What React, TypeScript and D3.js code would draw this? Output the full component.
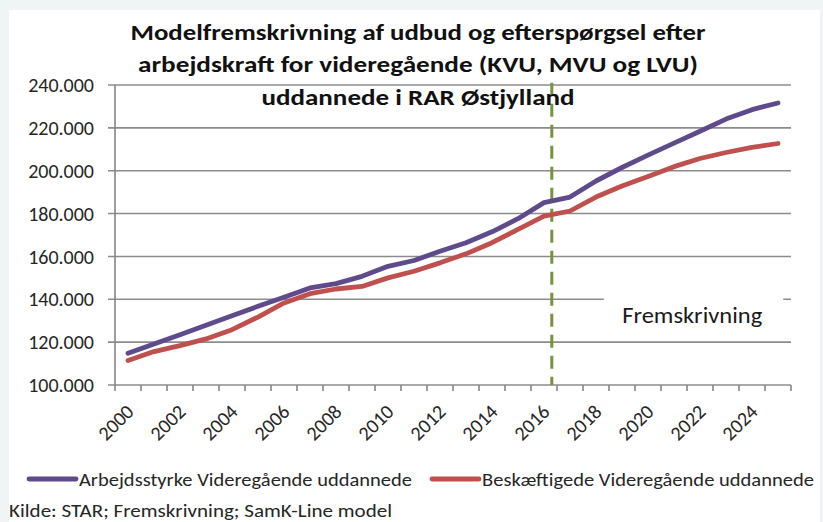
import * as d3 from "d3"

// years on the category axis
const years = d3.range(2000, 2026)
const yearLabels = years.filter(y => y % 2 === 0)

// Arbejdsstyrke (labour force), persons
const arbejdsstyrke = [
  114800, 119100, 123500, 127900, 132300, 136700, 141000, 145300, 147300, 150700,
  155400, 158100, 162400, 166400, 171500, 177600, 185100, 187700, 195200, 201500,
  207300, 212900, 218400, 224100, 228500, 231600,
]

// Beskæftigede (employed), persons
const beskaeftigede = [
  111400, 115600, 118400, 121500, 125800, 131700, 138300, 142600, 144800, 146000,
  150000, 153100, 157000, 161200, 166400, 172600, 178800, 181200, 187700, 192900,
  197300, 201900, 205700, 208500, 210900, 212700,
]

const yTicks = [100000, 120000, 140000, 160000, 180000, 200000, 220000, 240000]
const forecastYear = 2016.3

const titleLines = [
  "Modelfremskrivning af udbud og efterspørgsel efter",
  "arbejdskraft for videregående (KVU, MVU og LVU)",
  "uddannede i RAR Østjylland",
]

const series = [
  { name: "Arbejdsstyrke Videregående uddannede", values: arbejdsstyrke, color: "#5f4b8b" },
  { name: "Beskæftigede Videregående uddannede", values: beskaeftigede, color: "#c0504d" },
]

const W = 823
const H = 522
const FONT = "Carlito, Calibri, Lato, sans-serif"

const da = d3.formatLocale({ decimal: ",", thousands: ".", grouping: [3], currency: ["", " kr."] })
const fmt = da.format(",.0f")

export default function App() {
  const x = d3.scaleLinear().domain([1999.5, 2025.5]).range([115, 791])
  const y = d3.scaleLinear().domain([100000, 240000]).range([385, 85])

  const line = d3.line<number>()
    .x((_, i) => x(years[i]))
    .y(v => y(v))

  const tickEdges = d3.range(1999.5, 2026, 1)

  return (
    <svg width={W} height={H} style={{ position: "absolute", left: 0, top: 0, display: "block" }}
      fontFamily={FONT}>
      <rect width={W} height={H} fill="#eff5f5" />
      <rect x={9} y={10} width={W - 12} height={H - 10} fill="#ffffff" />

      {/* gridlines */}
      {yTicks.map(t => (
        <line key={t} x1={108} x2={791} y1={y(t)} y2={y(t)} stroke="#8c8c8c" strokeWidth={1.6} />
      ))}

      {/* y axis */}
      <line x1={115} x2={115} y1={y(240000)} y2={y(100000)} stroke="#868686" strokeWidth={1.6} />
      {yTicks.map(t => (
        <text key={t} x={94} y={y(t)} dy="0.36em" textAnchor="end" fontSize={20} fill="#262626">
          {fmt(t)}
        </text>
      ))}

      {/* x axis ticks */}
      {tickEdges.map(t => (
        <line key={t} x1={x(t)} x2={x(t)} y1={385} y2={391} stroke="#868686" strokeWidth={1.6} />
      ))}
      {yearLabels.map(yr => (
        <text key={yr} transform={`translate(${x(yr) + 7},413) rotate(-45)`} textAnchor="end"
          fontSize={20} fill="#262626">
          {yr}
        </text>
      ))}

      {/* forecast label box */}
      <rect x={x(2018.3)} y={y(144000)} width={x(2025.2) - x(2018.3)} height={y(122000) - y(144000)}
        fill="#ffffff" />
      <text x={x(2021.7)} y={y(129000)} textAnchor="middle" fontSize={22} fill="#1a1a1a"
        textLength={140} lengthAdjust="spacingAndGlyphs">
        Fremskrivning
      </text>

      {/* forecast divider */}
      <line x1={x(forecastYear)} x2={x(forecastYear)} y1={y(241000)} y2={y(100000)}
        stroke="#77933c" strokeWidth={3} strokeDasharray="13 8" />

      {/* series */}
      {series.map(s => (
        <path key={s.name} d={line(s.values) ?? ""} fill="none" stroke={s.color}
          strokeWidth={4.8} strokeLinecap="round" strokeLinejoin="round" />
      ))}

      {/* title */}
      {titleLines.map((t, i) => (
        <text key={i} x={418} y={39.5 + i * 32.8} textAnchor="middle" fontWeight="bold"
          fontSize={22.5} fill="#111111"
          textLength={[575, 560, 313][i]} lengthAdjust="spacingAndGlyphs">
          {t}
        </text>
      ))}

      {/* legend */}
      {series.map((s, i) => {
        const lx = [29, 432][i]
        return (
          <g key={s.name}>
            <line x1={lx} x2={lx + 47} y1={479} y2={479} stroke={s.color} strokeWidth={4.8}
              strokeLinecap="round" />
            <text x={lx + 50} y={485.7} fontSize={19} fill="#262626"
              textLength={[333, 332][i]} lengthAdjust="spacingAndGlyphs">
              {s.name}
            </text>
          </g>
        )
      })}

      <text x={9} y={517} fontSize={19} fill="#262626" textLength={383} lengthAdjust="spacingAndGlyphs">
        Kilde: STAR; Fremskrivning; SamK-Line model
      </text>
    </svg>
  )
}
